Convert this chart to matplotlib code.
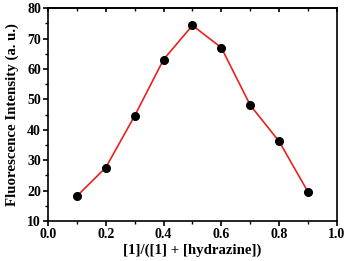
import numpy as np
import matplotlib
matplotlib.use("Agg")
import matplotlib.pyplot as plt
from matplotlib.ticker import MultipleLocator, FormatStrFormatter

# data
ratio = [0.1, 0.2, 0.3, 0.4, 0.5, 0.6, 0.7, 0.8, 0.9]
intensity = [18.2, 27.6, 44.6, 63.1, 74.3, 67.0, 48.1, 36.2, 19.6]

plt.rcParams['font.family'] = 'Liberation Serif'
plt.rcParams['font.weight'] = 'bold'

fig = plt.figure(figsize=(3.48, 2.61), dpi=100)
ax = fig.add_axes([0.138, 0.153, 0.830, 0.816])

ax.plot(ratio, intensity, color='#e8221e', lw=1.2, zorder=2)
ax.plot(ratio, intensity, 'o', color='black', markersize=5.5, zorder=3)

ax.set_xlim(0.0, 1.0)
ax.set_ylim(10, 80)
ax.xaxis.set_major_locator(MultipleLocator(0.2))
ax.xaxis.set_minor_locator(MultipleLocator(0.1))
ax.yaxis.set_major_locator(MultipleLocator(10))
ax.yaxis.set_minor_locator(MultipleLocator(5))
ax.xaxis.set_major_formatter(FormatStrFormatter('%.1f'))

ax.tick_params(which='major', direction='out', length=3.5, width=1.2, labelsize=10, pad=1.5)
ax.tick_params(which='minor', direction='out', length=2, width=1)
for lab in ax.get_xticklabels() + ax.get_yticklabels():
    lab.set_fontweight('bold')
for s in ax.spines.values():
    s.set_linewidth(1.2)

# inward ticks along the top edge
top = ax.secondary_xaxis('top')
top.xaxis.set_major_locator(MultipleLocator(0.2))
top.xaxis.set_minor_locator(MultipleLocator(0.1))
top.tick_params(which='major', direction='in', length=3, width=1.2, labeltop=False)
top.tick_params(which='minor', direction='in', length=2, width=1)
top.spines['top'].set_linewidth(1.2)

ax.set_xlabel('[1]/([1] + [hydrazine])', fontsize=10.7, fontweight='bold', labelpad=2)
ax.set_ylabel('Fluorescence Intensity (a. u.)', fontsize=10.7, fontweight='bold', labelpad=6)

fig.savefig('out.png', dpi=100)
